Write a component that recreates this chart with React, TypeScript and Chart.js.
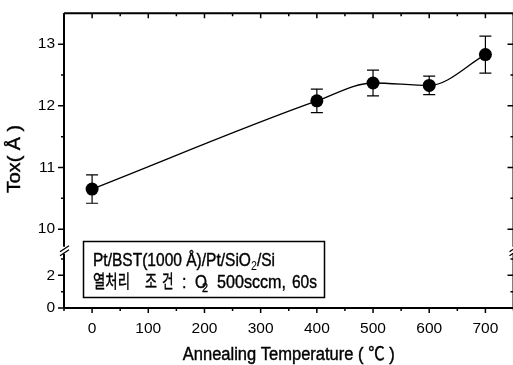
import React, { useEffect, useRef } from 'react';
import { Chart, registerables } from 'chart.js';

Chart.register(...registerables);

// ---- data ----
const temperatures = [0, 400, 500, 600, 700];
const toxValues = [10.65, 12.08, 12.37, 12.33, 12.83];
const toxErrors = [0.23, 0.19, 0.21, 0.15, 0.3];

const xMajorTicks = [0, 100, 200, 300, 400, 500, 600, 700];
const xMinorTicks = [-50, 50, 150, 250, 350, 450, 550, 650, 750];
const upperYTicks = [10, 11, 12, 13];
const upperYMinor = [10.5, 11.5, 12.5];
const lowerYTicks = [0, 2];
const lowerYMinor = [1, 3];

const xTitle = 'Annealing Temperature ( ℃ )';
const yTitle = 'Tox( Å )';
const noteLine1 = ['Pt/BST(1000 Å)/Pt/SiO', '2', '/Si'];
const noteLine2Korean = ['열처리', '조', '건'];
const noteLine2Rest = [':', 'O', '2', '500sccm,', '60s'];

const FONT = "Arial, 'Liberation Sans', 'Noto Sans CJK KR', sans-serif";

// draw text scaled to a target width with a vertical stretch (the scan is taller than Arial)
function fitText(ctx: any, text: string, x: number, y: number, size: number, targetW: number, sy: number) {
  ctx.font = `${size}px ${FONT}`;
  const w = ctx.measureText(text).width;
  ctx.save();
  ctx.translate(x, y);
  ctx.scale(targetW / w, sy);
  ctx.fillText(text, 0, 0);
  ctx.lineWidth = 0.35;
  ctx.strokeText(text, 0, 0);
  ctx.restore();
}

const framePlugin = {
  id: 'frame',
  afterDatasetsDraw(chart: any) {
    const ctx = chart.ctx;
    const xs = chart.scales.x;
    const yu = chart.scales.y;
    ctx.save();
    ctx.strokeStyle = '#000';
    ctx.lineWidth = 1.2;
    temperatures.forEach((t, i) => {
      const px = xs.getPixelForValue(t);
      const top = yu.getPixelForValue(toxValues[i] + toxErrors[i]);
      const bot = yu.getPixelForValue(toxValues[i] - toxErrors[i]);
      ctx.beginPath();
      ctx.moveTo(px, top);
      ctx.lineTo(px, bot);
      ctx.moveTo(px - 6, top);
      ctx.lineTo(px + 6, top);
      ctx.moveTo(px - 6, bot);
      ctx.lineTo(px + 6, bot);
      ctx.stroke();
    });
    ctx.restore();
  },
  afterDraw(chart: any) {
    const ctx = chart.ctx;
    const { left, right, top, bottom } = chart.chartArea;
    const xs = chart.scales.x;
    const yu = chart.scales.y;
    const yl = chart.scales.y2;
    const brk = yl.top;
    ctx.save();
    ctx.strokeStyle = '#000';
    ctx.fillStyle = '#000';
    ctx.lineWidth = 2;
    // frame
    ctx.beginPath();
    ctx.moveTo(left, top);
    ctx.lineTo(right, top);
    ctx.moveTo(left, bottom);
    ctx.lineTo(right, bottom);
    ctx.moveTo(left, top);
    ctx.lineTo(left, brk - 4);
    ctx.moveTo(left, brk + 3);
    ctx.lineTo(left, bottom);
    ctx.moveTo(right, top);
    ctx.lineTo(right, brk - 4);
    ctx.moveTo(right, brk + 3);
    ctx.lineTo(right, bottom);
    ctx.stroke();

    ctx.lineWidth = 1.5;
    ctx.beginPath();
    const yTick = (scale: any, v: number, len: number) => {
      const py = scale.getPixelForValue(v);
      ctx.moveTo(left - len, py);
      ctx.lineTo(left, py);
      ctx.moveTo(right - len, py);
      ctx.lineTo(right, py);
    };
    upperYTicks.forEach((v) => yTick(yu, v, 6));
    upperYMinor.forEach((v) => yTick(yu, v, 3));
    lowerYTicks.forEach((v) => yTick(yl, v, 6));
    lowerYMinor.forEach((v) => yTick(yl, v, 3));
    const xTick = (v: number, len: number) => {
      const px = xs.getPixelForValue(v);
      ctx.moveTo(px, bottom);
      ctx.lineTo(px, bottom + len);
      ctx.moveTo(px, top);
      ctx.lineTo(px, top + len);
    };
    xMajorTicks.forEach((v) => xTick(v, 5));
    xMinorTicks.forEach((v) => xTick(v, 3));
    ctx.stroke();

    // break marks
    ctx.lineWidth = 1.3;
    ctx.beginPath();
    [left, right].forEach((ax) => {
      ctx.moveTo(ax - 4, brk + 1);
      ctx.lineTo(ax + 5, brk - 5);
      ctx.moveTo(ax - 4, brk + 5);
      ctx.lineTo(ax + 5, brk - 1);
    });
    ctx.stroke();

    // note box
    ctx.lineWidth = 1.5;
    ctx.strokeRect(83.5, 241.5, 241, 56);
    ctx.textBaseline = 'alphabetic';
    ctx.textAlign = 'left';

    // line 1: measure natural width, then scale to the box's text width
    ctx.font = `16px ${FONT}`;
    const w0 = ctx.measureText(noteLine1[0]).width;
    const w2 = ctx.measureText(noteLine1[2]).width;
    ctx.font = `11px ${FONT}`;
    const w1 = ctx.measureText(noteLine1[1]).width;
    const natural = w0 + w1 + w2;
    const sx = 182 / natural;
    ctx.save();
    ctx.translate(93, 266);
    ctx.scale(sx, 1.2);
    ctx.lineWidth = 0.35;
    ctx.font = `16px ${FONT}`;
    ctx.fillText(noteLine1[0], 0, 0);
    ctx.strokeText(noteLine1[0], 0, 0);
    ctx.font = `11px ${FONT}`;
    ctx.fillText(noteLine1[1], w0, 3.5);
    ctx.font = `16px ${FONT}`;
    ctx.fillText(noteLine1[2], w0 + w1, 0);
    ctx.strokeText(noteLine1[2], w0 + w1, 0);
    ctx.restore();

    // line 2
    const base2 = 288;
    fitText(ctx, noteLine2Korean[0], 93, base2, 16, 37, 1.15);
    fitText(ctx, noteLine2Korean[1], 145, base2, 16, 12, 1.15);
    fitText(ctx, noteLine2Korean[2], 162, base2, 16, 11.5, 1.15);
    fitText(ctx, noteLine2Rest[0], 182, base2, 16, 4.5, 1.2);
    fitText(ctx, noteLine2Rest[1], 195, base2, 16, 12, 1.2);
    fitText(ctx, noteLine2Rest[2], 202, base2 + 4, 11, 6, 1.1);
    fitText(ctx, noteLine2Rest[3], 217, base2, 16, 69, 1.2);
    fitText(ctx, noteLine2Rest[4], 292, base2, 16, 25, 1.2);

    // x title
    fitText(ctx, xTitle, (left + right) / 2 - 106, 360, 15, 212, 1.2);

    // y title (rotated)
    ctx.save();
    ctx.translate(20, 159 + 34);
    ctx.rotate(-Math.PI / 2);
    fitText(ctx, yTitle, 0, 0, 15, 68, 1.2);
    ctx.restore();

    ctx.restore();
  },
};

export default function App() {
  const ref = useRef<HTMLCanvasElement | null>(null);

  useEffect(() => {
    document.body.style.overflow = 'hidden';
    const canvas = ref.current;
    if (!canvas) return;
    const tickFont = { family: FONT, size: 15.5 };
    const chart = new Chart(canvas, {
      type: 'line',
      data: {
        datasets: [
          {
            data: temperatures.map((t, i) => ({ x: t, y: toxValues[i] })),
            yAxisID: 'y',
            xAxisID: 'x',
            borderColor: '#000',
            borderWidth: 1.3,
            backgroundColor: '#000',
            pointBackgroundColor: '#000',
            pointBorderColor: '#000',
            pointBorderWidth: 0,
            pointRadius: 6.5,
            cubicInterpolationMode: 'monotone',
            fill: false,
          },
        ],
      },
      options: {
        animation: false,
        responsive: false,
        layout: { padding: { top: 5, right: 5, left: 0, bottom: 0 } },
        plugins: { legend: { display: false }, tooltip: { enabled: false } },
        scales: {
          x: {
            type: 'linear',
            position: 'bottom',
            min: -50,
            max: 750,
            afterFit: (s: any) => {
              s.height = 57;
            },
            afterBuildTicks: (s: any) => {
              s.ticks = xMajorTicks.map((v) => ({ value: v }));
            },
            ticks: { font: tickFont, color: '#000', padding: 6, maxRotation: 0, autoSkip: false },
            grid: { drawOnChartArea: false, tickLength: 5, tickColor: 'transparent' },
            border: { display: false },
          },
          y: {
            type: 'linear',
            position: 'left',
            stack: 'v',
            stackWeight: 243.7,
            weight: 2,
            min: 9.65,
            max: 13.5,
            afterFit: (s: any) => {
              s.width = 64;
            },
            afterBuildTicks: (s: any) => {
              s.ticks = upperYTicks.map((v) => ({ value: v }));
            },
            ticks: { font: tickFont, color: '#000', padding: 4 },
            grid: { drawOnChartArea: false, tickLength: 5, tickColor: 'transparent' },
            border: { display: false },
          },
          y2: {
            type: 'linear',
            position: 'left',
            stack: 'v',
            stackWeight: 58.8,
            weight: 1,
            min: 0,
            max: 3.5,
            afterFit: (s: any) => {
              s.width = 64;
            },
            afterBuildTicks: (s: any) => {
              s.ticks = lowerYTicks.map((v) => ({ value: v }));
            },
            ticks: { font: tickFont, color: '#000', padding: 4 },
            grid: { drawOnChartArea: false, tickLength: 5, tickColor: 'transparent' },
            border: { display: false },
          },
        },
      } as any,
      plugins: [framePlugin],
    });
    return () => chart.destroy();
  }, []);

  return (
    <div
      style={{
        position: 'fixed',
        left: 0,
        top: 0,
        width: 513,
        height: 365,
        overflow: 'hidden',
        background: '#fff',
      }}
    >
      <canvas ref={ref} width={520} height={365} style={{ display: 'block', width: 520, height: 365 }} />
    </div>
  );
}
